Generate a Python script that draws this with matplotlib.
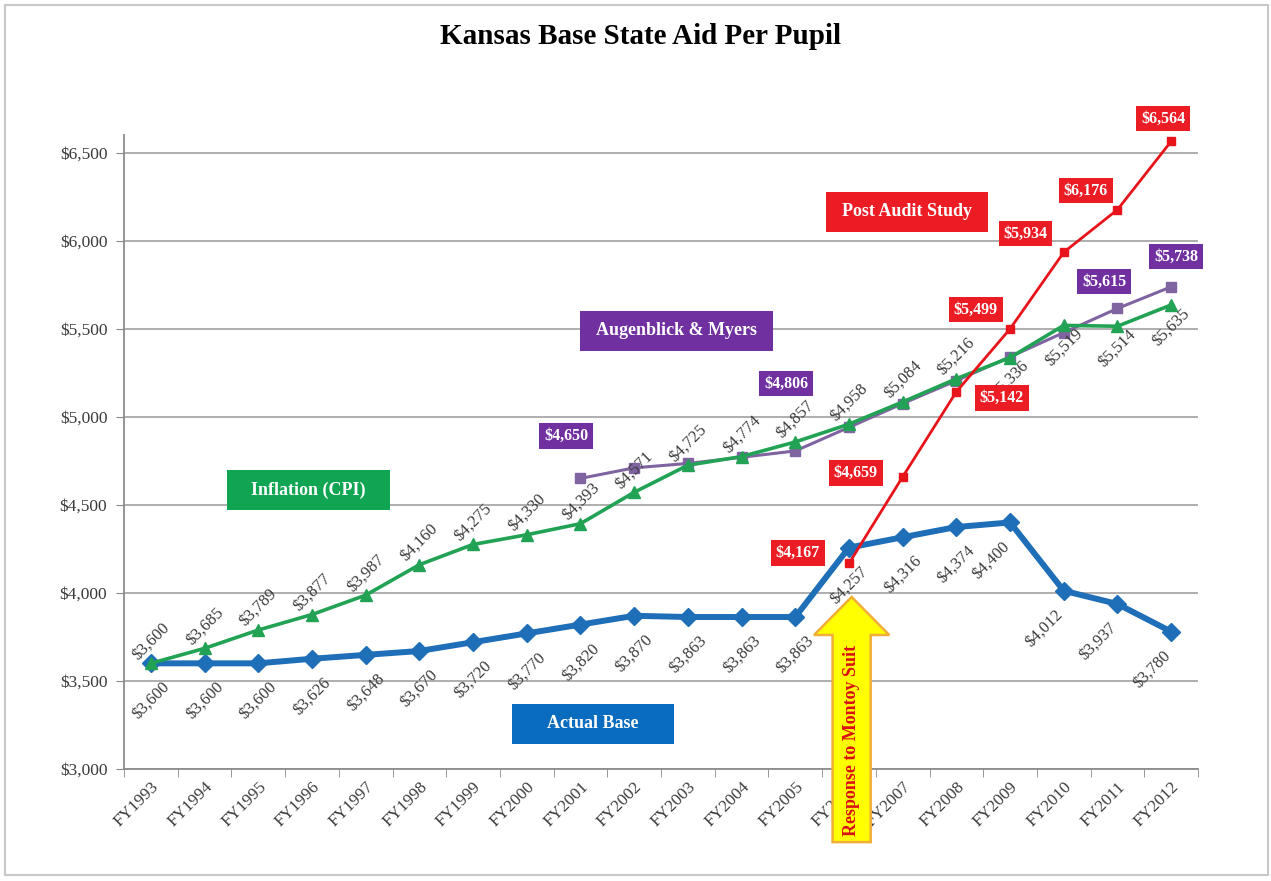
import matplotlib
matplotlib.use('Agg')
import matplotlib.pyplot as plt
from matplotlib.patches import Rectangle, FancyArrow
from matplotlib.transforms import ScaledTranslation

plt.rcParams['font.family'] = ['Liberation Serif', 'DejaVu Serif']

# chart data
years = ['FY1993', 'FY1994', 'FY1995', 'FY1996', 'FY1997', 'FY1998', 'FY1999',
         'FY2000', 'FY2001', 'FY2002', 'FY2003', 'FY2004', 'FY2005', 'FY2006',
         'FY2007', 'FY2008', 'FY2009', 'FY2010', 'FY2011', 'FY2012']
actual_base = [3600, 3600, 3600, 3626, 3648, 3670, 3720, 3770, 3820, 3870,
               3863, 3863, 3863, 4257, 4316, 4374, 4400, 4012, 3937, 3780]
inflation   = [3600, 3685, 3789, 3877, 3987, 4160, 4275, 4330, 4393, 4571,
               4725, 4774, 4857, 4958, 5084, 5216, 5336, 5519, 5514, 5635]
augenblick_start = 8    # FY2001
augenblick  = [4650, 4710, 4735, 4770, 4806, 4940, 5075, 5205, 5340, 5478,
               5615, 5738]
augenblick_labeled = [0, 4, 10, 11]
post_audit_start = 13   # FY2006
post_audit  = [4167, 4659, 5142, 5499, 5934, 6176, 6564]
inflation_below_from = 16  # labels of FY2009 onwards go under the line

# colours
c_blue   = '#1F6EB8'
c_green  = '#22A254'
c_purple = '#8064A2'
c_red    = '#E8141B'
box_blue   = '#0A6CBE'
box_green  = '#0FA552'
box_purple = '#7030A0'
box_red    = '#EC1C24'
txt_gray   = '#3A3A3A'

W, H = 1271, 881
fig = plt.figure(figsize=(W/100, H/100), dpi=100)
ax = fig.add_axes([124/W, 1-769/H, (1198-124)/W, (769-135)/H])

x = list(range(len(years)))
xa = [augenblick_start + i for i in range(len(augenblick))]
xp = [post_audit_start + i for i in range(len(post_audit))]

ax.plot(x, actual_base, color=c_blue, lw=4.3, marker='D', ms=9, zorder=3)
ax.plot(xa, augenblick, color=c_purple, lw=2.2, marker='s', ms=7, zorder=4)
ax.plot(x, inflation, color=c_green, lw=2.6, marker='^', ms=9, zorder=5)
ax.plot(xp, post_audit, color=c_red, lw=2, marker='s', ms=6, zorder=6)

# axes
ax.set_xlim(-0.5, len(years)-0.5)
ax.set_ylim(3000, 6600)
yt = list(range(3000, 6501, 500))
ax.set_yticks(yt)
ax.set_yticklabels(['${:,}'.format(v) for v in yt], fontsize=12.5, color=txt_gray)
ax.set_xticks(x)
ax.set_xticklabels(years, rotation=45, ha='right', va='top',
                   rotation_mode='anchor', fontsize=12.3, color=txt_gray)
ax.set_xticks([i - 0.5 for i in range(len(years)+1)], minor=True)
ax.tick_params(axis='x', which='major', length=0, pad=7)
ax.tick_params(axis='x', which='minor', length=6, color='#888888')
ax.tick_params(axis='y', length=6, color='#888888', pad=6)
ax.grid(axis='y', color='#A8A8A8', lw=1.3)
ax.set_axisbelow(True)
for s in ['top', 'right']:
    ax.spines[s].set_visible(False)
for s in ['left', 'bottom']:
    ax.spines[s].set_color('#8C8C8C')
    ax.spines[s].set_linewidth(1.3)

# rotated value labels
for i, v in enumerate(inflation):
    dy = 16 if i < inflation_below_from else -16
    ax.annotate('${:,}'.format(v), (i, v), xytext=(0, dy),
                textcoords='offset points', rotation=45, ha='center',
                va='center', fontsize=12, color=txt_gray, zorder=7)
for i, v in enumerate(actual_base):
    dx = -14 if i >= inflation_below_from else 0
    ax.annotate('${:,}'.format(v), (i, v), xytext=(dx, -27),
                textcoords='offset points', rotation=45, ha='center',
                va='center', fontsize=12, color=txt_gray, zorder=7)

# boxed value labels (box centres in data units)
aug_box_pos = [(7.73, 4892), (11.83, 5188), (17.75, 5767), (19.09, 5909)]
for k, (bx, by) in zip(augenblick_labeled, aug_box_pos):
    ax.text(bx, by, '${:,}'.format(augenblick[k]), color='white',
            fontsize=11.5, fontweight='bold', ha='center', va='center',
            zorder=8, clip_on=False,
            bbox=dict(boxstyle='square,pad=0.3', fc=box_purple, ec='none'))
red_box_pos = [(12.05, 4227), (13.13, 4682), (15.85, 5108), (15.36, 5608),
               (16.29, 6040), (17.41, 6284), (18.85, 6693)]
for v, (bx, by) in zip(post_audit, red_box_pos):
    ax.text(bx, by, '${:,}'.format(v), color='white',
            fontsize=11.5, fontweight='bold', ha='center', va='center',
            zorder=8, clip_on=False,
            bbox=dict(boxstyle='square,pad=0.3', fc=box_red, ec='none'))

def series_box(cx, cy, wpx, hpx, text, color):
    trans = fig.dpi_scale_trans + ScaledTranslation(cx, cy, ax.transData)
    ax.add_patch(Rectangle((-wpx/200, -hpx/200), wpx/100, hpx/100,
                           transform=trans, fc=color, ec='none', zorder=8,
                           clip_on=False))
    ax.text(cx, cy, text, color='white', fontsize=13, fontweight='bold',
            ha='center', va='center', zorder=9)

series_box(2.94, 4585, 163, 40, 'Inflation (CPI)', box_green)
series_box(9.78, 5489, 193, 40, 'Augenblick & Myers', box_purple)
series_box(14.08, 6165, 162, 40, 'Post Audit Study', box_red)
series_box(8.23, 3256, 162, 40, 'Actual Base', box_blue)

# Montoy arrow
tip_x, tip_y, tail_y = 13.05, 3977, 2585
ax.add_patch(FancyArrow(tip_x, tail_y, 0, tip_y - tail_y, width=0.71,
                        head_width=1.4, head_length=216,
                        length_includes_head=True, fc='#FFFF00',
                        ec='#F0AE38', lw=1.8, zorder=10, clip_on=False))
ax.text(tip_x, 3165, 'Response to Montoy Suit', rotation=90, color='#D81010',
        fontsize=13, fontweight='bold', ha='center', va='center',
        zorder=11, clip_on=False)

fig.text(641/W, 1-37/H, 'Kansas Base State Aid Per Pupil', ha='center',
         va='center', fontsize=21, fontweight='bold')
fig.add_artist(Rectangle((5/W, 6/H), 1263/W, 870/H, transform=fig.transFigure,
                         fill=False, ec='#C8C8C8', lw=1.5))

fig.savefig('out.png', dpi=100)
